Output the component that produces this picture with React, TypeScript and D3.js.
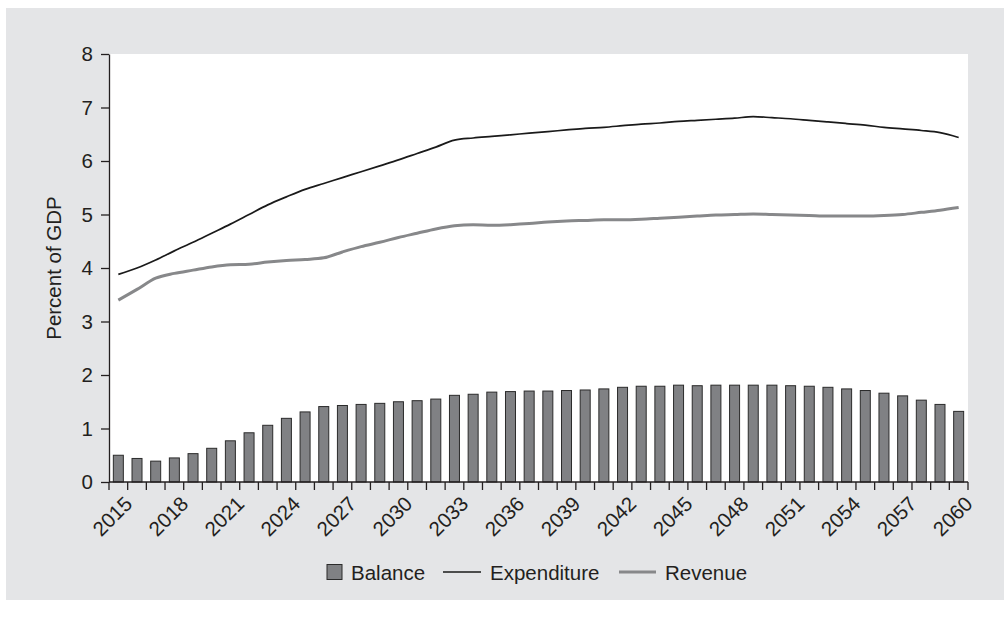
import { useEffect, useRef } from "react";
import * as d3 from "d3";

const years = d3.range(2015, 2061).map(String);

const balance = [
  0.5, 0.44, 0.39, 0.45, 0.53, 0.63, 0.77, 0.92, 1.06, 1.19, 1.31, 1.41, 1.43, 1.45, 1.47,
  1.5, 1.52, 1.55, 1.62, 1.64, 1.68, 1.69, 1.7, 1.7, 1.71, 1.72, 1.74, 1.77, 1.79, 1.79,
  1.81, 1.8, 1.81, 1.81, 1.81, 1.81, 1.8, 1.79, 1.77, 1.74, 1.71, 1.66, 1.61, 1.53, 1.45, 1.32,
];

const expenditure = [
  3.88, 4.0, 4.15, 4.32, 4.48, 4.65, 4.82, 5.0, 5.18, 5.33, 5.47, 5.58, 5.69, 5.8, 5.91,
  6.02, 6.14, 6.26, 6.39, 6.43, 6.46, 6.49, 6.52, 6.55, 6.58, 6.61, 6.63, 6.66, 6.69, 6.71,
  6.74, 6.76, 6.78, 6.8, 6.83, 6.81, 6.79, 6.76, 6.73, 6.7, 6.67, 6.63, 6.6, 6.57, 6.53, 6.44,
];

const revenue = [
  3.4, 3.6, 3.81, 3.9, 3.96, 4.02, 4.06, 4.07, 4.11, 4.14, 4.16, 4.19, 4.3, 4.4, 4.48,
  4.57, 4.65, 4.73, 4.79, 4.81, 4.8, 4.81, 4.83, 4.86, 4.88, 4.89, 4.9, 4.9, 4.91, 4.93,
  4.95, 4.97, 4.99, 5.0, 5.01, 5.0, 4.99, 4.98, 4.97, 4.97, 4.97, 4.98, 5.0, 5.04, 5.08, 5.13,
];

const yTicks = [0, 1, 2, 3, 4, 5, 6, 7, 8];
const legendItems = ["Balance", "Expenditure", "Revenue"];

export default function App() {
  const ref = useRef<SVGSVGElement | null>(null);

  useEffect(() => {
    if (!ref.current) return;
    const svg = d3.select(ref.current);
    svg.selectAll("*").remove();

    const font = "'Liberation Sans', Arial, Helvetica, sans-serif";
    const ink = "#231f20";
    const margin = { top: 54, right: 36, bottom: 135, left: 109 };
    const width = 1004;
    const height = 617;

    // fond gris
    svg.append("rect")
      .attr("x", 6).attr("y", 8)
      .attr("width", width - 6).attr("height", 592)
      .attr("fill", "#e4e5e7");

    const xb = d3.scaleBand<string>()
      .domain(years)
      .range([margin.left, width - margin.right]);

    const y = d3.scaleLinear()
      .domain([0, 8])
      .range([height - margin.bottom, margin.top]);

    // zone blanche
    svg.append("rect")
      .attr("x", margin.left).attr("y", margin.top)
      .attr("width", width - margin.right - margin.left)
      .attr("height", y(0) - margin.top)
      .attr("fill", "#ffffff");

    // barres
    svg.append("g")
      .selectAll("rect")
      .data(balance)
      .join("rect")
      .attr("x", (_, i) => xb(years[i])! + xb.bandwidth() / 2 - 5)
      .attr("width", 10)
      .attr("y", d => y(d))
      .attr("height", d => y(0) - y(d))
      .attr("fill", "#808184")
      .attr("stroke", "#2b2b2b")
      .attr("stroke-width", 1);

    const line = d3.line<number>()
      .x((_, i) => xb(years[i])! + xb.bandwidth() / 2)
      .y(d => y(d))
      .curve(d3.curveMonotoneX);

    svg.append("path")
      .datum(revenue)
      .attr("fill", "none")
      .attr("stroke", "#87888a")
      .attr("stroke-width", 3)
      .attr("d", line);

    svg.append("path")
      .datum(expenditure)
      .attr("fill", "none")
      .attr("stroke", "#1a1a1a")
      .attr("stroke-width", 1.7)
      .attr("d", line);

    // axe y
    const yAxis = d3.axisLeft(y).tickValues(yTicks).tickSize(8).tickPadding(8).tickSizeOuter(0);
    const gy = svg.append("g")
      .attr("transform", `translate(${margin.left},0)`)
      .call(yAxis);
    gy.select(".domain").attr("stroke", ink).attr("stroke-width", 1.3);
    gy.selectAll("line").attr("stroke", ink).attr("stroke-width", 1.3);
    gy.selectAll("text")
      .attr("font-family", font).attr("font-size", 20.5).attr("fill", ink);

    // axe x
    const gx = svg.append("g").attr("transform", `translate(0,${y(0)})`);
    gx.append("line")
      .attr("x1", margin.left).attr("x2", width - margin.right)
      .attr("stroke", ink).attr("stroke-width", 1.3);
    gx.selectAll("line.tick")
      .data(years.concat(["end"]))
      .join("line")
      .attr("class", "tick")
      .attr("x1", (d, i) => (i < years.length ? xb(d)! : width - margin.right))
      .attr("x2", (d, i) => (i < years.length ? xb(d)! : width - margin.right))
      .attr("y1", 0).attr("y2", 8)
      .attr("stroke", ink).attr("stroke-width", 1.3);
    gx.selectAll("text")
      .data(years.filter((_, i) => i % 3 === 0))
      .join("text")
      .attr("transform", d => `translate(${xb(d)! + xb.bandwidth() / 2 + 5},${13}) rotate(-45)`)
      .attr("text-anchor", "end")
      .attr("dy", "0.7em")
      .attr("font-family", font).attr("font-size", 20.5).attr("fill", ink)
      .text(d => d);

    // titre axe y
    svg.append("text")
      .attr("transform", `translate(${61},${(margin.top + y(0)) / 2}) rotate(-90)`)
      .attr("text-anchor", "middle")
      .attr("font-family", font).attr("font-size", 20.5).attr("fill", ink)
      .text("Percent of GDP");

    // légende
    const lg = svg.append("g").attr("transform", "translate(0,572)");
    lg.append("rect")
      .attr("x", 327).attr("y", -7.5).attr("width", 15).attr("height", 15)
      .attr("fill", "#808184").attr("stroke", "#2b2b2b");
    lg.append("text").attr("x", 351).attr("y", 7.5)
      .attr("font-family", font).attr("font-size", 20.5).attr("fill", ink)
      .text(legendItems[0]);
    lg.append("line").attr("x1", 443).attr("x2", 481)
      .attr("stroke", "#1a1a1a").attr("stroke-width", 1.7);
    lg.append("text").attr("x", 490).attr("y", 7.5)
      .attr("font-family", font).attr("font-size", 20.5).attr("fill", ink)
      .text(legendItems[1]);
    lg.append("line").attr("x1", 619).attr("x2", 656)
      .attr("stroke", "#87888a").attr("stroke-width", 3);
    lg.append("text").attr("x", 665).attr("y", 7.5)
      .attr("font-family", font).attr("font-size", 20.5).attr("fill", ink)
      .text(legendItems[2]);
  }, []);

  return (
    <svg
      ref={ref}
      width={1004}
      height={617}
      style={{ position: "absolute", left: 0, top: 0, display: "block" }}
    />
  );
}
